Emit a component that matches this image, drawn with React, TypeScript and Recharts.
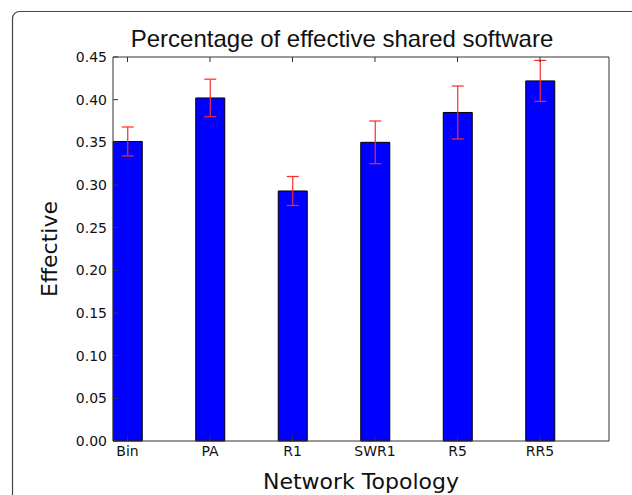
import { BarChart, Bar, XAxis, YAxis, ErrorBar } from "recharts";

const topologies = ["Bin", "PA", "R1", "SWR1", "R5", "RR5"];
const effective = [0.351, 0.402, 0.293, 0.350, 0.385, 0.422];
const spread = [0.017, 0.022, 0.017, 0.025, 0.031, 0.024];
const yTicks = [0, 0.05, 0.1, 0.15, 0.2, 0.25, 0.3, 0.35, 0.4, 0.45];

const data = topologies.map((name, i) => ({
  name,
  value: effective[i],
  err: spread[i],
}));

const AXIS = "#333";
const tickFont = { fontFamily: "DejaVu Sans", fontSize: 14, fill: "#111" };

// top/right axes only carry the inward tick marks, no labels
const NoLabel = () => <g />;

export default function App() {
  return (
    <div style={{ position: "absolute", left: 0, top: 0, width: 632, height: 495, background: "#fff" }}>
      <svg width={632} height={495} style={{ position: "absolute", left: 0, top: 0 }}>
        <rect x={12.5} y={11.5} width={700} height={600} rx={7} fill="none" stroke="#444" strokeWidth={1.2} />
      </svg>
      <BarChart
        width={632}
        height={495}
        data={data}
        margin={{ top: 56, right: 22, bottom: 24, left: 53 }}
        style={{ position: "absolute", left: 0, top: 0 }}
      >
        <XAxis
          dataKey="name"
          padding={{ left: -26.75, right: 27.75 }}
          height={30}
          stroke={AXIS}
          tickSize={-5}
          tickMargin={10}
          tick={tickFont}
          interval={0}
        />
        <XAxis
          xAxisId="top"
          dataKey="name"
          orientation="top"
          padding={{ left: -26.75, right: 27.75 }}
          height={1}
          stroke={AXIS}
          tickSize={-5}
          tick={NoLabel}
          interval={0}
        />
        <YAxis
          type="number"
          domain={[0, 0.45]}
          ticks={yTicks}
          interval={0}
          width={60}
          stroke={AXIS}
          tickSize={-5}
          tickMargin={11}
          tick={tickFont}
          tickFormatter={(v: number) => v.toFixed(2)}
        />
        <YAxis
          yAxisId="right"
          orientation="right"
          type="number"
          domain={[0, 0.45]}
          ticks={yTicks}
          interval={0}
          width={1}
          stroke={AXIS}
          tickSize={-5}
          tick={NoLabel}
        />
        <Bar dataKey="value" fill="#0000ff" stroke="#000" strokeWidth={1} barSize={29} isAnimationActive={false}>
          <ErrorBar dataKey="err" direction="y" width={6} stroke="#ff2a2a" strokeWidth={1.2} isAnimationActive={false} />
        </Bar>
      </BarChart>
      <svg width={632} height={495} style={{ position: "absolute", left: 0, top: 0, pointerEvents: "none" }}>
        <text x={342} y={47} textAnchor="middle" fontFamily="Liberation Sans" fontSize={24} fill="#111">
          Percentage of effective shared software
        </text>
        <text x={57} y={249} textAnchor="middle" fontFamily="DejaVu Sans" fontSize={22} fill="#111" transform="rotate(-90 57 249)">
          Effective
        </text>
        <text x={361} y={488.5} textAnchor="middle" fontFamily="DejaVu Sans" fontSize={22} fill="#111">
          Network Topology
        </text>
      </svg>
    </div>
  );
}
